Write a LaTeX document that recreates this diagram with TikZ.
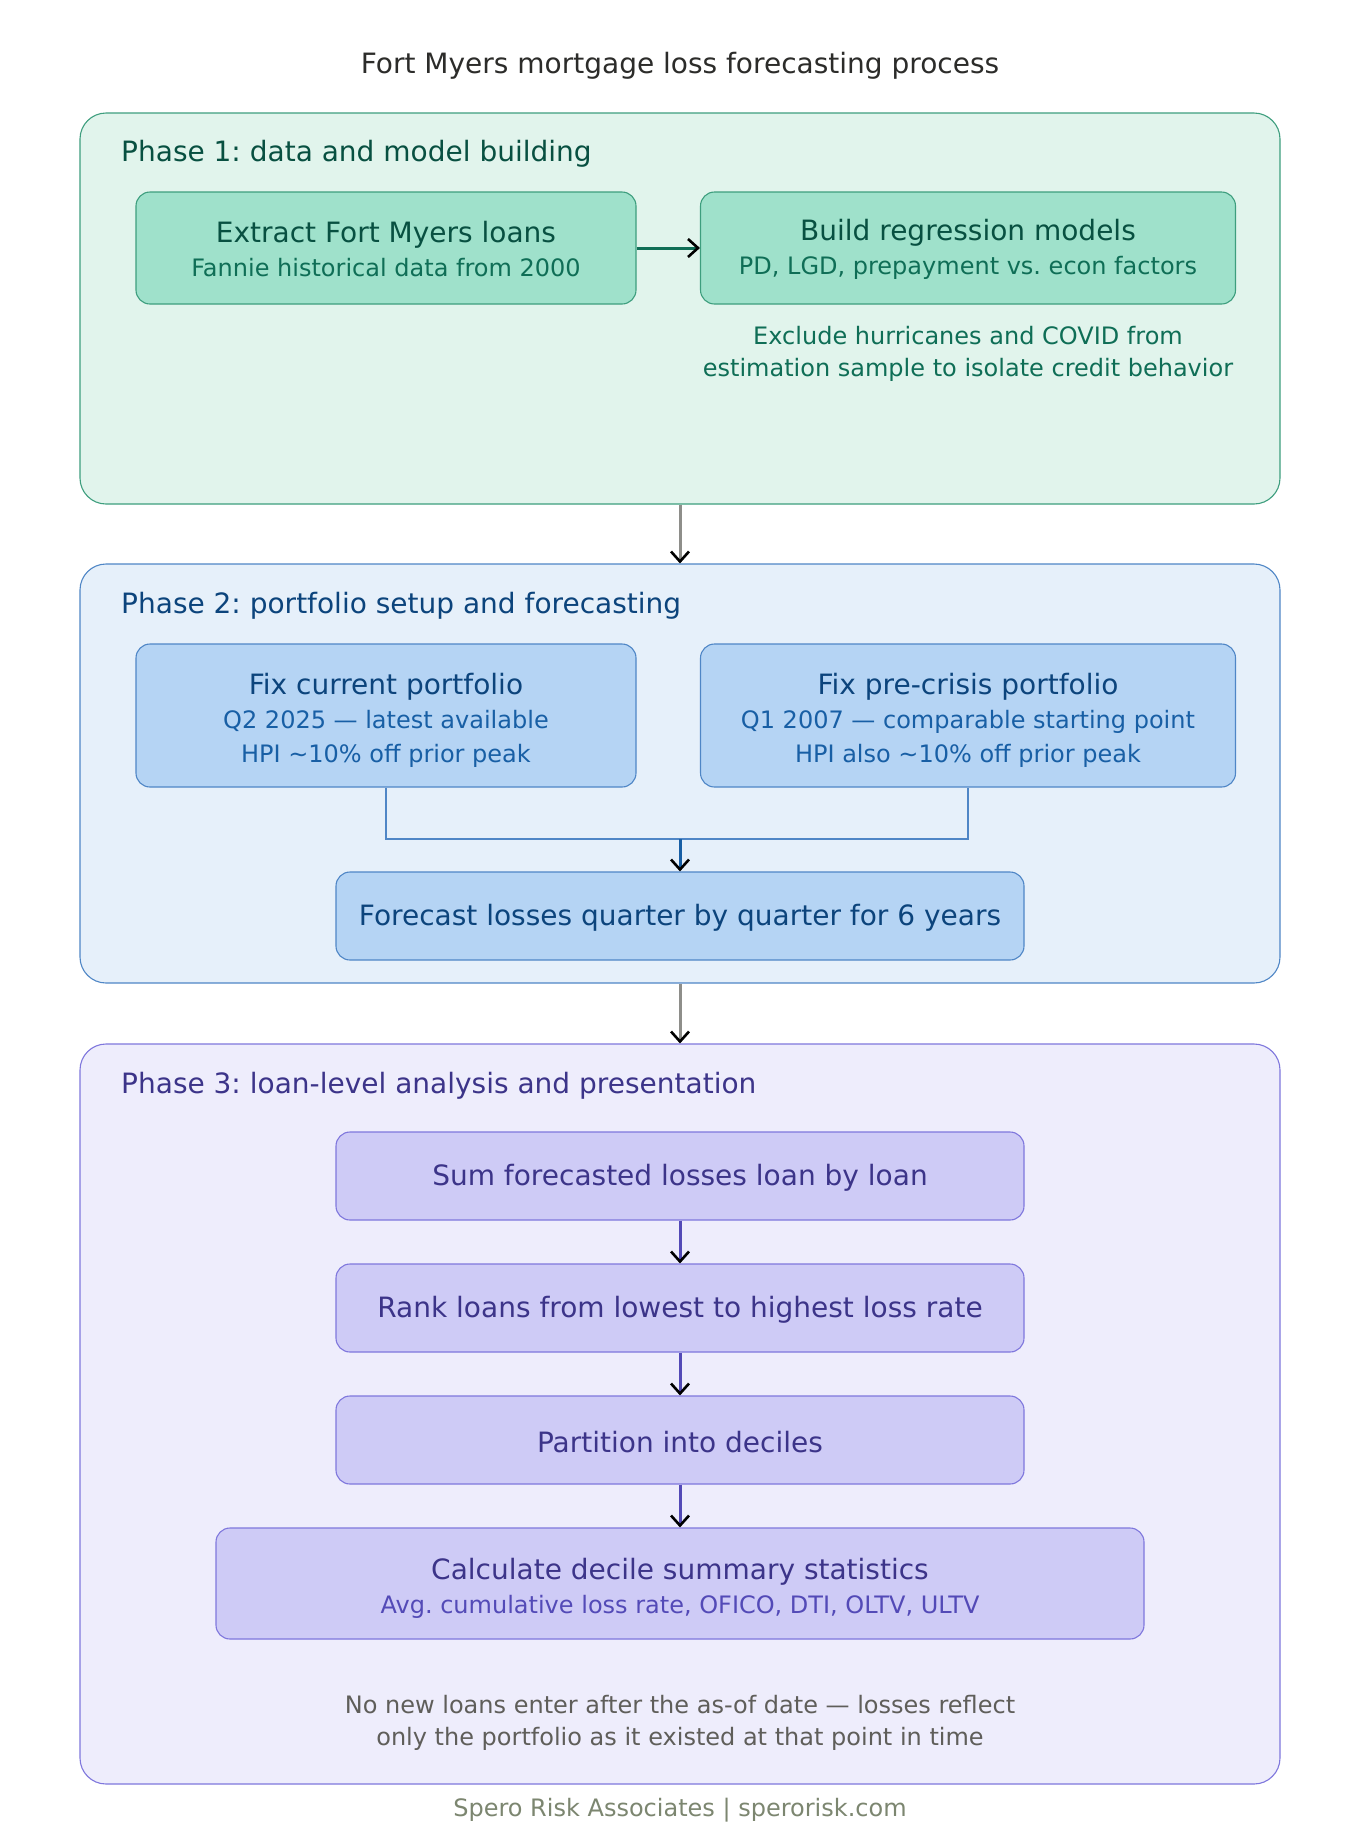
\documentclass[tikz,border=0pt]{standalone}
\usepackage{fontspec}
\setmainfont{DejaVu Sans}
\frenchspacing
\usetikzlibrary{arrows.meta}
\definecolor{tealbg}{HTML}{E1F4EC}
\definecolor{tealbox}{HTML}{9FE1CB}
\definecolor{tealedge}{HTML}{3E9E7E}
\definecolor{tealdark}{HTML}{085041}
\definecolor{tealmid}{HTML}{0F6E56}
\definecolor{bluebg}{HTML}{E6F0FA}
\definecolor{bluebox}{HTML}{B5D4F4}
\definecolor{blueedge}{HTML}{4F86C6}
\definecolor{bluedark}{HTML}{0C447C}
\definecolor{bluemid}{HTML}{185FA5}
\definecolor{purpbg}{HTML}{EEEDFC}
\definecolor{purpbox}{HTML}{CECBF6}
\definecolor{purpedge}{HTML}{7F77DD}
\definecolor{purpdark}{HTML}{3C3489}
\definecolor{purpmid}{HTML}{534AB7}
\definecolor{titlegray}{HTML}{2C2C2A}
\definecolor{notegray}{HTML}{5F5E5A}
\definecolor{footgray}{HTML}{7C8670}
\definecolor{linkgray}{HTML}{8E8E8A}
\newcommand\ttl[2]{{\fontsize{28}{34}\selectfont\rule{0pt}{#1pt}#2}}
\tikzset{
  x=1pt, y=-1pt,
  phasebox/.style={draw, line width=1.1pt, rounded corners=26pt, inner sep=0pt},
  innerbox/.style={draw, line width=1.1pt, rounded corners=14pt, align=center, inner sep=0pt,
     font=\fontsize{24}{34}\selectfont},
  tbox/.style={innerbox, fill=tealbox, draw=tealedge, text=tealmid},
  bbox/.style={innerbox, fill=bluebox, draw=blueedge, text=bluemid},
  pbox/.style={innerbox, fill=purpbox, draw=purpedge, text=purpmid},
  phaselabel/.style={anchor=west, font=\fontsize{28}{34}\selectfont, inner sep=0pt},
  notetext/.style={align=center, font=\fontsize{24}{32}\selectfont, inner sep=0pt},
  tip/.style={-{Straight Barb[length=10pt,width=18pt,color=black,line width=2.6pt]}},
  phaselink/.style={tip, draw=linkgray, line width=3pt},
  innerlink/.style={tip, line width=3pt},
}
\begin{document}
\begin{tikzpicture}
\useasboundingbox[fill=white] (0,0) rectangle (1360,1840);
% title
\node[font=\fontsize{28}{34}\selectfont, text=titlegray] (title) at (680,65.5) {Fort Myers mortgage loss forecasting process};

% Phase 1
\node[phasebox, fill=tealbg, draw=tealedge, minimum width=1200pt, minimum height=391pt] (p1) at (680,308.5) {};
\node[phaselabel, text=tealdark] (p1lab) at (121,153.5) {Phase 1: data and model building};
\node[tbox, minimum width=500pt, minimum height=112pt] (extract) at (386,248)
  {\ttl{23.5}{\color{tealdark}Extract Fort Myers loans}\\Fannie historical data from 2000};
\node[tbox, minimum width=535pt, minimum height=112pt] (build) at (968,248)
  {\ttl{23.5}{\color{tealdark}Build regression models}\\PD, LGD, prepayment vs.\ econ factors};
\node[notetext, text=tealmid] (p1note) at (968,353.5)
  {Exclude hurricanes and COVID from\\estimation sample to isolate credit behavior};
\draw[innerlink, draw=tealmid] (extract) -- (build);

% Phase 2
\node[phasebox, fill=bluebg, draw=blueedge, minimum width=1200pt, minimum height=419pt] (p2) at (680,773.5) {};
\node[phaselabel, text=bluedark] (p2lab) at (121,605.5) {Phase 2: portfolio setup and forecasting};
\node[bbox, minimum width=500pt, minimum height=143pt] (fixcur) at (386,715.5)
  {\ttl{30.5}{\color{bluedark}Fix current portfolio}\\Q2 2025 — latest available\\HPI \textasciitilde10\% off prior peak};
\node[bbox, minimum width=535pt, minimum height=143pt] (fixpre) at (968,715.5)
  {\ttl{30.5}{\color{bluedark}Fix pre-crisis portfolio}\\Q1 2007 — comparable starting point\\HPI also \textasciitilde10\% off prior peak};
\node[bbox, minimum width=688pt, minimum height=88pt] (forecast) at (680,916)
  {\ttl{24}{\color{bluedark}Forecast losses quarter by quarter for 6 years}};
\coordinate (merge) at (680,839);
\draw[draw=blueedge, line width=1.3pt] (fixcur.south) |- (merge) -| (fixpre.south);
\draw[innerlink, draw=bluemid] (merge) -- (forecast.north);

% Phase 3
\node[phasebox, fill=purpbg, draw=purpedge, minimum width=1200pt, minimum height=740pt] (p3) at (680,1414) {};
\node[phaselabel, text=purpdark] (p3lab) at (121,1085.5) {Phase 3: loan-level analysis and presentation};
\node[pbox, minimum width=688pt, minimum height=88pt] (sum) at (680,1176)
  {\ttl{25}{\color{purpdark}Sum forecasted losses loan by loan}};
\node[pbox, minimum width=688pt, minimum height=88pt] (rank) at (680,1308)
  {\ttl{25}{\color{purpdark}Rank loans from lowest to highest loss rate}};
\node[pbox, minimum width=688pt, minimum height=88pt] (part) at (680,1440)
  {\ttl{25}{\color{purpdark}Partition into deciles}};
\node[pbox, minimum width=928pt, minimum height=111pt] (calc) at (680,1583.5)
  {\ttl{30}{\color{purpdark}Calculate decile summary statistics}\\Avg.\ cumulative loss rate, OFICO, DTI, OLTV, ULTV};
\node[notetext, text=notegray] (p3note) at (680,1722.5)
  {No new loans enter after the as-of date — losses reflect\\only the portfolio as it existed at that point in time};
\draw[innerlink, draw=purpmid] (sum) -- (rank);
\draw[innerlink, draw=purpmid] (rank) -- (part);
\draw[innerlink, draw=purpmid] (part) -- (calc);

% phase links
\draw[phaselink] (p1.south) -- (p2.north);
\draw[phaselink] (p2.south) -- (p3.north);

% footer
\node[font=\fontsize{24}{30}\selectfont, text=footgray] (footer) at (680,1810.5) {Spero Risk Associates | sperorisk.com};
\end{tikzpicture}
\end{document}
